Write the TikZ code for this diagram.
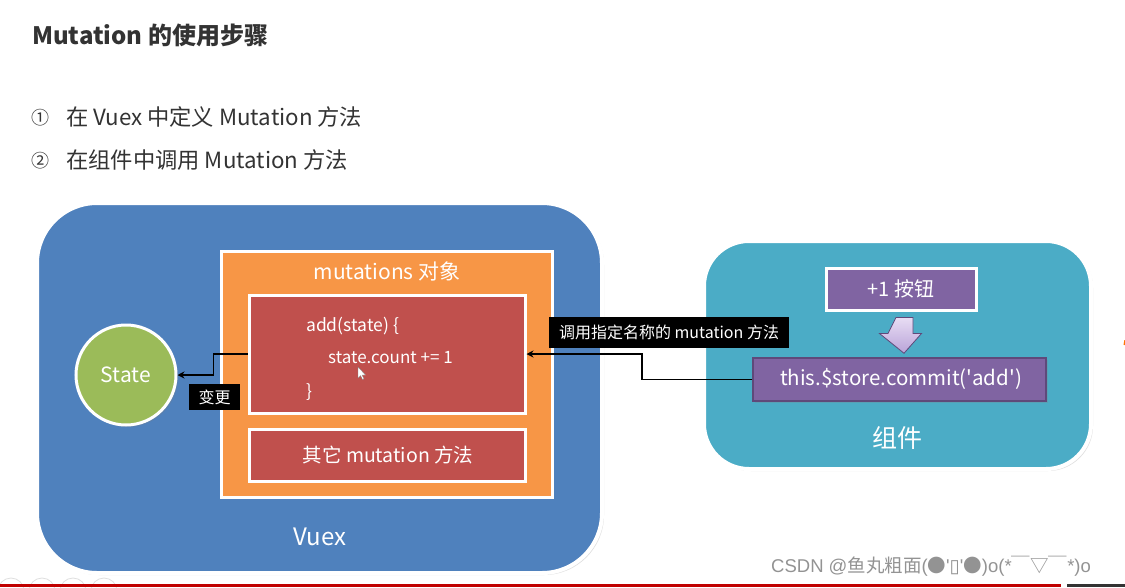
\documentclass[tikz,border=0pt]{standalone}
\usepackage{fontspec}
\setmainfont{Noto Sans CJK SC}[Ligatures=TeXOff]
\newfontfamily\symfont{DejaVu Sans}
\newfontfamily\wmfont{Liberation Sans}[Ligatures=TeXOff]
\usetikzlibrary{shadows,arrows.meta,calc}
\definecolor{vuexblue}{HTML}{4F81BD}
\definecolor{objorange}{HTML}{F79646}
\definecolor{fnred}{HTML}{C0504D}
\definecolor{stgreen}{HTML}{9BBB59}
\definecolor{compteal}{HTML}{4BACC6}
\definecolor{btnpurple}{HTML}{8064A2}
\definecolor{darkpurple}{HTML}{5F497A}
\definecolor{titlegray}{HTML}{333333}
\definecolor{lav}{HTML}{E8DDF4}
\definecolor{lavdark}{HTML}{B9A3D8}
\definecolor{footred}{HTML}{C00000}
\tikzset{
  fs/.style={font=\fontsize{#1}{#1}\selectfont},
  shad/.style={drop shadow={opacity=0.25,shadow xshift=2pt,shadow yshift=-2pt}},
  bigbox/.style={draw=white,line width=4pt,shad,inner sep=0pt},
  wbox/.style={draw=white,line width=3pt,shad,inner sep=0pt},
  tag/.style={fill=black,text=white,inner sep=0pt},
  conn/.style={draw=black,line width=1.8pt,-{Stealth[length=7pt,width=7pt]}},
  wtxt/.style={text=white,inner sep=0pt},
}
\begin{document}
\begin{tikzpicture}[x=1pt,y=-1pt]
\useasboundingbox (0,0) rectangle (1125,587);
\fill[white] (0,0) rectangle (1125,587);
% headings
\node[anchor=west,inner sep=0pt,text=titlegray,font=\bfseries\fontsize{24}{24}\selectfont] (title) at (32,35) {Mutation 的使用步骤};
\node[anchor=west,inner sep=0pt,text=titlegray,fs=18] (n1) at (31,118) {①};
\node[anchor=west,inner sep=0pt,text=titlegray,fs=22.3] (l1) at (66,117) {在 Vuex 中定义 Mutation 方法};
\node[anchor=west,inner sep=0pt,text=titlegray,fs=18] (n2) at (31,161) {②};
\node[anchor=west,inner sep=0pt,text=titlegray,fs=22.3] (l2) at (66,160) {在组件中调用 Mutation 方法};
% Vuex box
\node[bigbox,fill=vuexblue,rounded corners=60pt,minimum width=565pt,minimum height=370pt] (vuex) at (319.5,388) {};
\node[wtxt,fs=24] (vuexl) at (320,537) {Vuex};
\node[wbox,fill=objorange,minimum width=331pt,minimum height=246pt] (obj) at (386.5,374) {};
\node[wtxt,fs=21] (objl) at (387,271) {mutations 对象};
\node[wbox,fill=fnred,minimum width=276pt,minimum height=118pt] (red1) at (387,354) {};
\node[wtxt,fs=17.5,anchor=west] (c1) at (306,326) {add(state) \{};
\node[wtxt,fs=17,anchor=west] (c2) at (328,358) {state.count += 1};
\node[wtxt,fs=17.5,anchor=west] (c3) at (306,392) {\}};
\node[wbox,fill=fnred,minimum width=276pt,minimum height=52pt] (red2) at (387,455) {};
\node[wtxt,fs=19.5] (red2l) at (388,455) {其它 mutation 方法};
% cursor
\fill[white,draw=gray,line width=0.3pt] (358,367) -- (358,378) -- (360.5,375.5) -- (362.5,379.5) -- (364,378.8) -- (362,375) -- (365.5,375) -- cycle;
% State
\node[circle,draw=white,line width=3pt,fill=stgreen,shad,minimum size=100pt,inner sep=0pt] (state) at (126,375) {};
\node[wtxt,fs=21] (statel) at (126,375) {State};
% component box
\node[bigbox,fill=compteal,rounded corners=45pt,minimum width=387pt,minimum height=228pt] (comp) at (897.5,355) {};
\node[wtxt,fs=25] (compl) at (897,438) {组件};
\node[wbox,fill=btnpurple,minimum width=150pt,minimum height=42pt] (btn) at (901,289) {};
\node[wtxt,fs=20] (btnl) at (901,289) {+1 按钮};
\node[draw=darkpurple,line width=1.5pt,fill=btnpurple,shad,minimum width=293pt,minimum height=43pt,inner sep=0pt] (commit) at (899.5,379.5) {};
\node[wtxt,fs=20.5] (commitl) at (901,379) {this.\$store.commit('add')};
% block arrow between btn and commit
\path[top color=lav,bottom color=lavdark,draw=darkpurple,line width=0.8pt,line join=miter]
  ($(btn.south)+(-5,6)$) -- ++(17,0) -- ++(0,16) -- ++(8.5,0) -- ($(commit.north)+(4.5,-4)$) -- ($(btn.south)+(-21.5,22)$) -- ++(8.5,0) -- cycle;
% connectors
\draw[conn] (red1.west) -- ++(-34,0) |- (state.east);
\draw[conn] (commit.west) -- ++(-110,0) |- (red1.east);
% tags
\node[tag,fs=16,minimum width=51pt,minimum height=26pt] (tag1) at (214.5,397) {变更};
\node[tag,fs=16,minimum width=240pt,minimum height=31pt] (tag2) at (669,332.5) {调用指定名称的 mutation 方法};
% right edge partial mark
\draw[orange!90!red,line width=2pt] (1124.5,345) arc (180:200:14);
% footer
\begin{scope}
\clip (0,0) rectangle (1125,587);
\foreach \cx in {11,42,73,104}{\draw[gray!25,line width=0.8pt] (\cx,591) circle (13);}
\end{scope}
\fill[footred] (0,584) rectangle (1061,587);
\fill[titlegray] (1067,584) rectangle (1125,587);
\node[anchor=west,inner sep=0pt,text=gray!85,fs=18.5] (wm) at (771,566) {{\wmfont CSDN @}鱼丸粗面{\wmfont (}●{\wmfont '}{\symfont ▯}{\wmfont '}●{\wmfont )o(*}￣▽￣{\wmfont *)o}};
\end{tikzpicture}
\end{document}
